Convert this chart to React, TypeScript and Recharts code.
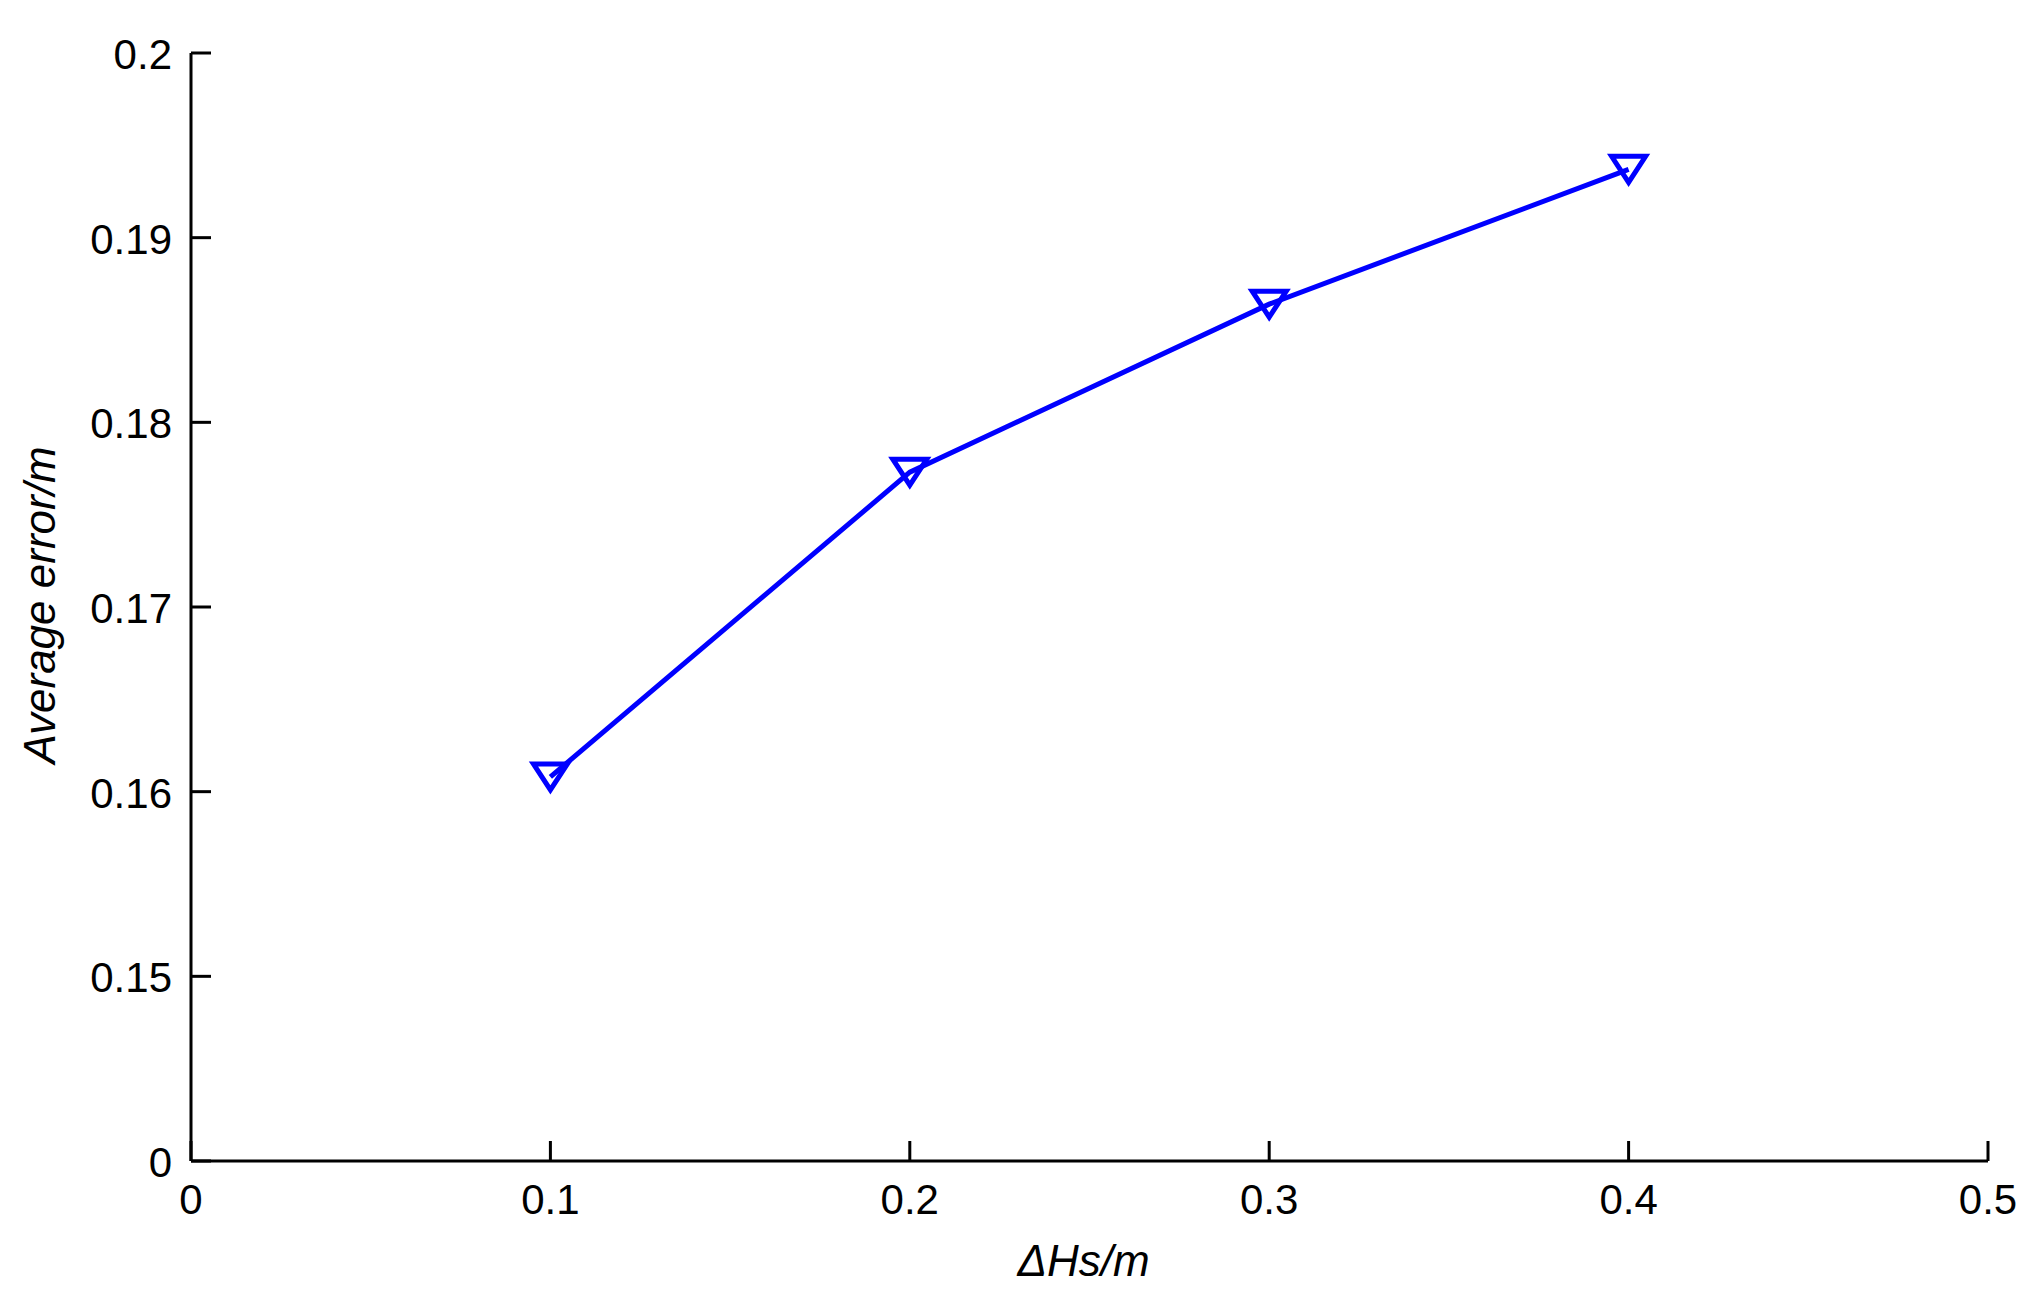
import React from 'react';
import { LineChart, Line, XAxis, YAxis, Label } from 'recharts';

// ΔHs (m) and the average error (m)
const deltaHs = [0.1, 0.2, 0.3, 0.4];
const avgError = [0.1608, 0.1773, 0.1864, 0.1937];

const xTicks = [0, 0.1, 0.2, 0.3, 0.4, 0.5];
const xTickLabels = ['0', '0.1', '0.2', '0.3', '0.4', '0.5'];
// the y axis is broken: the bottom tick is labelled 0
const yTicks = [0.14, 0.15, 0.16, 0.17, 0.18, 0.19, 0.2];
const yTickLabels = ['0', '0.15', '0.16', '0.17', '0.18', '0.19', '0.2'];

const data = deltaHs.map((x, i) => ({ x, y: avgError[i] }));

const FONT = '"Liberation Sans", Arial, sans-serif';
const TICK_LEN = 20;

const XTick = (props: any) => {
  const { x, y, payload } = props;
  const idx = xTicks.indexOf(payload.value);
  return (
    <g>
      <line x1={x} x2={x} y1={y} y2={y - TICK_LEN} stroke="#000" strokeWidth={3} />
      <text x={x} y={y + 53} textAnchor="middle" fontSize={42} fontFamily={FONT} fill="#000">
        {idx >= 0 ? xTickLabels[idx] : payload.value}
      </text>
    </g>
  );
};

const YTick = (props: any) => {
  const { x, y, payload } = props;
  const idx = yTicks.indexOf(payload.value);
  return (
    <g>
      <line x1={x} x2={x + TICK_LEN} y1={y} y2={y} stroke="#000" strokeWidth={3} />
      <text x={x - 19} y={y + 16} textAnchor="end" fontSize={42} fontFamily={FONT} fill="#000">
        {idx >= 0 ? yTickLabels[idx] : payload.value}
      </text>
    </g>
  );
};

const TriangleDot = (props: any) => {
  const { cx, cy } = props;
  if (cx == null || cy == null) return null;
  const w = 17;
  const h = 13;
  return (
    <path
      d={`M${cx - w},${cy - h} L${cx + w},${cy - h} L${cx},${cy + h} Z`}
      fill="none"
      stroke="#0000FF"
      strokeWidth={5}
      strokeLinejoin="miter"
    />
  );
};

const App: React.FC = () => {
  return (
    <div style={{ width: 2040, height: 1307, background: '#fff' }}>
      <style>{`body{margin:0;}`}</style>
      <LineChart width={2040} height={1307} data={data} margin={{ top: 53, right: 52, left: 0, bottom: 29 }}>
        <XAxis
          dataKey="x"
          type="number"
          domain={[0, 0.5]}
          ticks={xTicks}
          interval={0}
          height={117}
          tickSize={0}
          tickMargin={0}
          tick={<XTick />}
          axisLine={{ stroke: '#000', strokeWidth: 3 }}
        >
          <Label
            content={(p: any) => {
              const vb = p.viewBox;
              return (
                <text
                  x={vb.x + vb.width / 2 - 6}
                  y={vb.y + 115}
                  textAnchor="middle"
                  fontSize={44}
                  fontStyle="italic"
                  fontFamily={FONT}
                  fill="#000"
                >
                  ΔHs/m
                </text>
              );
            }}
          />
        </XAxis>
        <YAxis
          type="number"
          domain={[0.14, 0.2]}
          ticks={yTicks}
          interval={0}
          width={191}
          tickSize={0}
          tickMargin={0}
          tick={<YTick />}
          axisLine={{ stroke: '#000', strokeWidth: 3 }}
        >
          <Label
            content={(p: any) => {
              const vb = p.viewBox;
              const cx = vb.x + 55;
              const cy = vb.y + vb.height / 2 - 2;
              return (
                <text
                  x={cx}
                  y={cy}
                  transform={`rotate(-90, ${cx}, ${cy})`}
                  textAnchor="middle"
                  fontSize={44}
                  fontStyle="italic"
                  fontFamily={FONT}
                  fill="#000"
                >
                  Average error/m
                </text>
              );
            }}
          />
        </YAxis>
        <Line
          dataKey="y"
          stroke="#0000FF"
          strokeWidth={5}
          dot={(p: any) => <TriangleDot key={`dot-${p.index}`} {...p} />}
          activeDot={false}
          isAnimationActive={false}
        />
      </LineChart>
    </div>
  );
};

export default App;
